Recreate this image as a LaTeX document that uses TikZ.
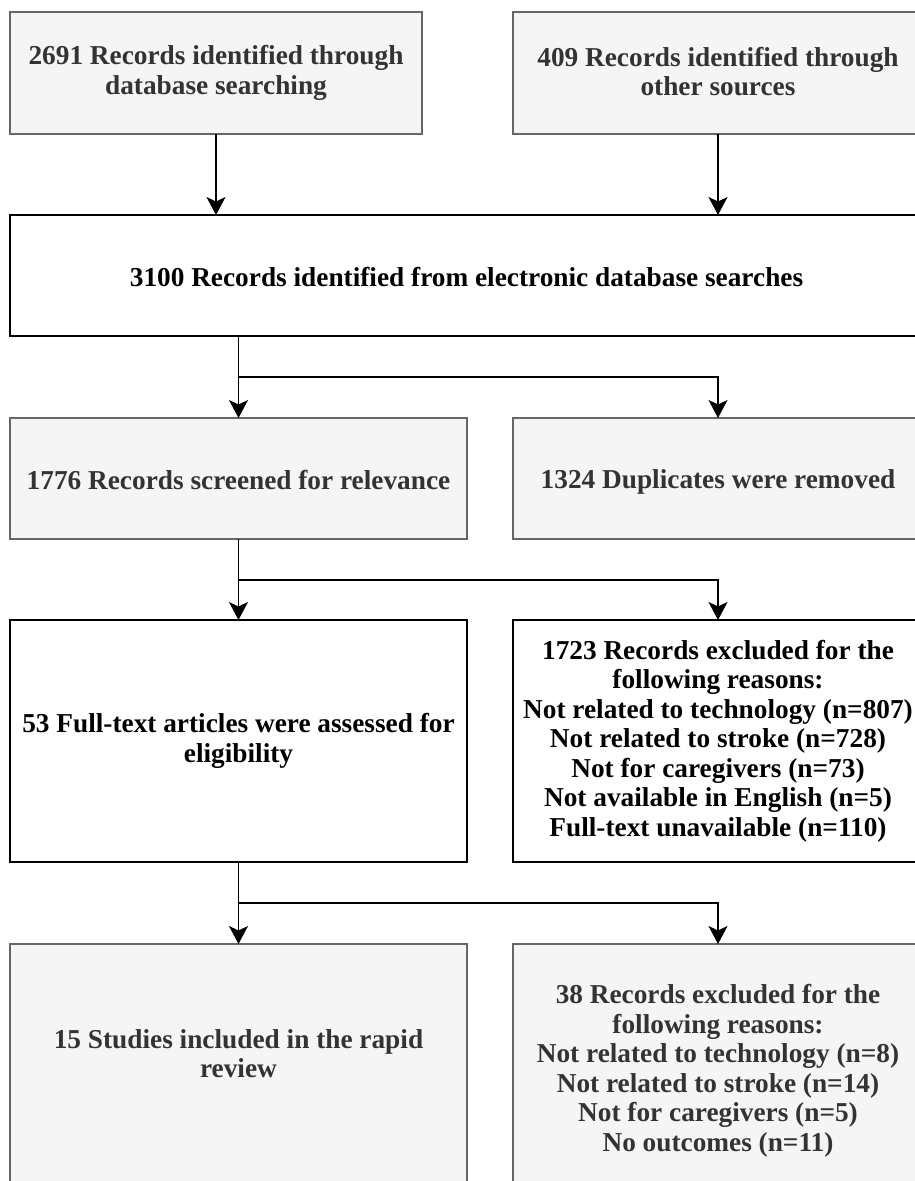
\documentclass[tikz,border=0pt]{standalone}
\usepackage{fontspec}
\setmainfont{Liberation Serif}
\usetikzlibrary{arrows.meta}
\newcommand\mystrut{\rule[-3.35pt]{0pt}{29.5pt}}
\tikzset{
  x=1pt, y=-1pt,
  box/.style={rectangle, inner sep=0pt, outer sep=0pt, line width=1.5pt, align=center,
    font=\bfseries\fontsize{27.3}{29.5}\selectfont,
    execute at begin node=\mystrut, execute at end node=\mystrut},
  graybox/.style={box, draw={rgb,255:red,102;green,102;blue,102}, fill={rgb,255:red,245;green,245;blue,245}, text={rgb,255:red,51;green,51;blue,51}},
  whitebox/.style={box, draw=black, fill=white, text=black},
  txt/.style={inner sep=0pt, align=center, font=\bfseries\fontsize{27.3}{29.5}\selectfont, text={rgb,255:red,51;green,51;blue,51},
    execute at begin node=\mystrut, execute at end node=\mystrut},
  arr/.style={line width=1.5pt, draw=black, -{Stealth[length=18pt,width=19pt,inset=4.5pt]}}
}
\begin{document}
\begin{tikzpicture}
\useasboundingbox (0,0) rectangle (915,1181);
\clip (0,0) rectangle (915,1181);
\node[graybox, minimum width=412pt, minimum height=122pt] (A) at (216,73) {2691 Records identified through\\database searching};
\node[graybox, minimum width=410pt, minimum height=122pt] (B) at (718,73) {409 Records identified through\\other sources};
\node[whitebox, minimum width=913pt, minimum height=121pt] (C) at (466.5,275.5) {3100 Records identified from electronic database searches};
\node[graybox, minimum width=457pt, minimum height=121pt] (D) at (238.5,478.5) {1776 Records screened for relevance};
\node[graybox, minimum width=410pt, minimum height=121pt] (E) at (718,478.5) {1324 Duplicates were removed};
\node[whitebox, minimum width=457pt, minimum height=242pt] (F) at (238.5,741) {53 Full-text articles were assessed for\\eligibility};
\node[whitebox, minimum width=410pt, minimum height=242pt] (G) at (718,741) {1723 Records excluded for the\\following reasons:\\Not related to technology (n=807)\\Not related to stroke (n=728)\\Not for caregivers (n=73)\\Not available in English (n=5)\\Full-text unavailable (n=110)};
\node[graybox, minimum width=457pt, minimum height=254pt] (H) at (238.5,1071) {};
\node[txt] (Ht) at (238.5,1055) {15 Studies included in the rapid\\review};
\node[graybox, minimum width=410pt, minimum height=254pt] (I) at (718,1071) {38 Records excluded for the\\following reasons:\\Not related to technology (n=8)\\Not related to stroke (n=14)\\Not for caregivers (n=5)\\No outcomes (n=11)};
% connectors
\draw[arr] (A.south) -- (A.south |- C.north);
\draw[arr] (B.south) -- (B.south |- C.north);
\coordinate (j1) at (238.5,377);
\coordinate (j2) at (238.5,580);
\coordinate (j3) at (238.5,903);
\draw[arr] (C.south -| D.north) -- (D.north);
\draw[arr] (j1) -| (E.north);
\draw[arr] (D.south) -- (F.north);
\draw[arr] (j2) -| (G.north);
\draw[arr] (F.south) -- (H.north);
\draw[arr] (j3) -| (I.north);
\end{tikzpicture}
\end{document}
